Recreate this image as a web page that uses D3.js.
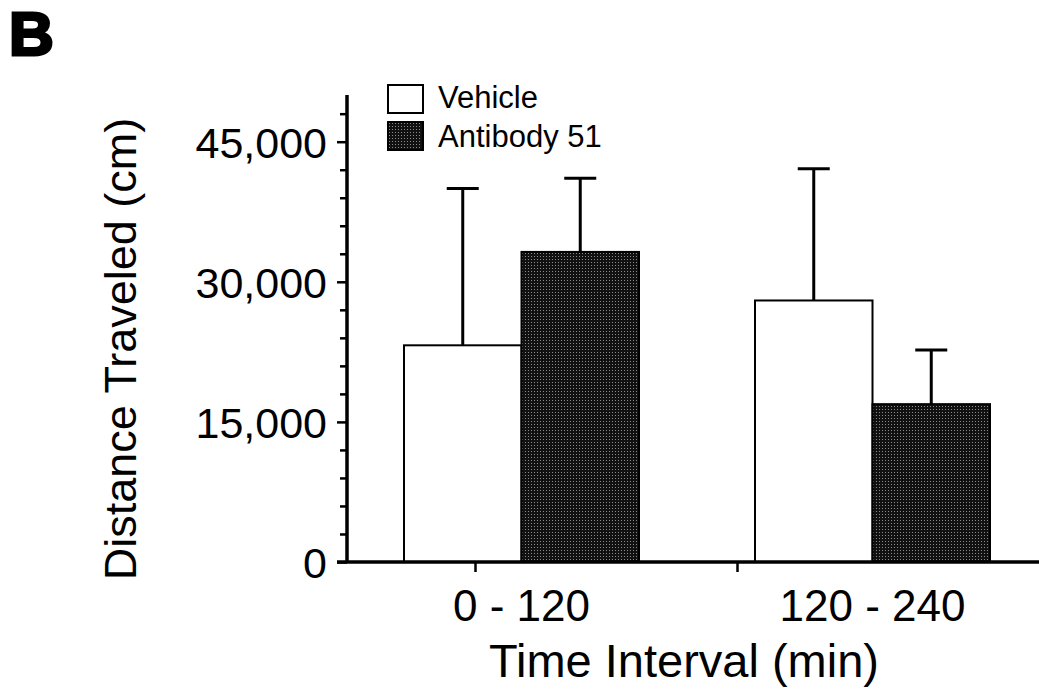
<!DOCTYPE html>
<html>
<head>
<meta charset="utf-8">
<script src="https://cdn.jsdelivr.net/npm/d3@7"></script>
<style>
  html, body { margin: 0; padding: 0; background: #fff; }
  svg { display: block; font-family: "Liberation Sans", Arial, sans-serif; }
</style>
</head>
<body>
<svg id="chart" width="1039" height="690"></svg>
<script>
// ---- data ----
const categories = ["0 - 120", "120 - 240"];
const seriesNames = ["Vehicle", "Antibody 51"];
const vehicleMeans = [23200, 28000];
const vehicleErrTop = [40000, 42100];
const antibodyMeans = [33200, 16900];
const antibodyErrTop = [41100, 22700];
const yTickValues = [0, 15000, 30000, 45000];
const yMinorStep = 3000;
const yMax = 50000;
const panelLabel = "B";
const yTitle = "Distance Traveled (cm)";
const xTitle = "Time Interval (min)";

const series = [
  { name: seriesNames[0], means: vehicleMeans, err: vehicleErrTop, fill: "#fff" },
  { name: seriesNames[1], means: antibodyMeans, err: antibodyErrTop, fill: "url(#dots)" }
];

const svg = d3.select("#chart");

// halftone pattern for the dark bars
const defs = svg.append("defs");
const pat = defs.append("pattern").attr("id", "dots").attr("patternUnits", "userSpaceOnUse")
  .attr("width", 3).attr("height", 3);
pat.append("rect").attr("width", 3).attr("height", 3).attr("fill", "#111");
pat.append("rect").attr("x", 1).attr("y", 1).attr("width", 1).attr("height", 1).attr("fill", "#8a8a8a");

// ---- scales ----
const y = d3.scaleLinear().domain([0, yMax]).range([562, 95]);
const x0 = d3.scaleBand().domain(categories).range([404, 990]).paddingInner(0.3305).paddingOuter(0);
const x1 = d3.scaleBand().domain(seriesNames).range([0, x0.bandwidth()]).padding(0);
const xTickPos = d3.scalePoint().domain(categories).range([475, 737]);

// ---- bars ----
const groups = svg.append("g").selectAll("g").data(categories).join("g")
  .attr("transform", d => `translate(${x0(d)},0)`);

series.forEach(s => {
  groups.append("line")
    .attr("x1", x1(s.name) + x1.bandwidth() / 2)
    .attr("x2", x1(s.name) + x1.bandwidth() / 2)
    .attr("y1", (d, i) => y(s.means[i]))
    .attr("y2", (d, i) => y(s.err[i]))
    .attr("stroke", "#000").attr("stroke-width", 3);
  groups.append("line")
    .attr("x1", x1(s.name) + x1.bandwidth() / 2 - 16)
    .attr("x2", x1(s.name) + x1.bandwidth() / 2 + 16)
    .attr("y1", (d, i) => y(s.err[i]))
    .attr("y2", (d, i) => y(s.err[i]))
    .attr("stroke", "#000").attr("stroke-width", 3);
});
series.forEach(s => {
  groups.append("rect")
    .attr("x", x1(s.name))
    .attr("width", x1.bandwidth())
    .attr("y", (d, i) => y(s.means[i]))
    .attr("height", (d, i) => y(0) - y(s.means[i]))
    .attr("fill", s.fill)
    .attr("stroke", "#000").attr("stroke-width", 2);
});

// ---- y axis ----
const minorVals = d3.range(0, yMax + 1, yMinorStep).filter(v => !yTickValues.includes(v));
const yMinor = svg.append("g").attr("transform", "translate(347,0)")
  .call(d3.axisLeft(y).tickValues(minorVals).tickSize(7).tickFormat(""));
yMinor.select(".domain").remove();
yMinor.selectAll("line").attr("stroke-width", 2.5);

const yAxis = svg.append("g").attr("transform", "translate(347,0)")
  .call(d3.axisLeft(y).tickValues(yTickValues).tickSize(10).tickPadding(10)
    .tickFormat(d3.format(",")));
yAxis.select(".domain").attr("stroke-width", 3.5).attr("d", `M0,${y(yMax)}V${y(0)}`);
yAxis.selectAll(".tick line").attr("stroke-width", 2.5);
yAxis.selectAll(".tick text").attr("font-size", 43).attr("fill", "#000")
  .attr("font-family", "Liberation Sans, Arial, sans-serif").attr("dy", "0.36em");

// ---- x axis ----
const xAxis = svg.append("g").attr("transform", "translate(0,562)")
  .call(d3.axisBottom(x0).tickSize(0).tickPadding(28));
xAxis.select(".domain").attr("stroke-width", 3.5).attr("d", "M337,0H1039");
xAxis.selectAll(".tick text").attr("font-size", 44).attr("fill", "#000")
  .attr("font-family", "Liberation Sans, Arial, sans-serif");

const xMarks = svg.append("g").attr("transform", "translate(0,562)")
  .call(d3.axisBottom(xTickPos).tickSize(10).tickFormat(""));
xMarks.select(".domain").remove();
xMarks.selectAll("line").attr("stroke-width", 2.5);

// ---- titles ----
svg.append("text").attr("transform", "translate(136,349) rotate(-90)")
  .attr("text-anchor", "middle").attr("font-size", 45).text(yTitle);
svg.append("text").attr("x", 684).attr("y", 677)
  .attr("text-anchor", "middle").attr("font-size", 47).text(xTitle);
svg.append("text").attr("x", 9).attr("y", 55)
  .attr("font-size", 62).attr("font-weight", 900)
  .attr("stroke", "#000").attr("stroke-width", 3).text(panelLabel);

// ---- legend ----
const legend = svg.append("g").selectAll("g").data(series).join("g")
  .attr("transform", (d, i) => `translate(388,${85 + i * 37})`);
legend.append("rect").attr("width", 35).attr("height", 28)
  .attr("fill", d => d.fill).attr("stroke", "#000").attr("stroke-width", 2);
legend.append("text").attr("x", 50).attr("y", (d, i) => 23 + i * 2)
  .attr("font-size", 31).text(d => d.name);
</script>
</body>
</html>
